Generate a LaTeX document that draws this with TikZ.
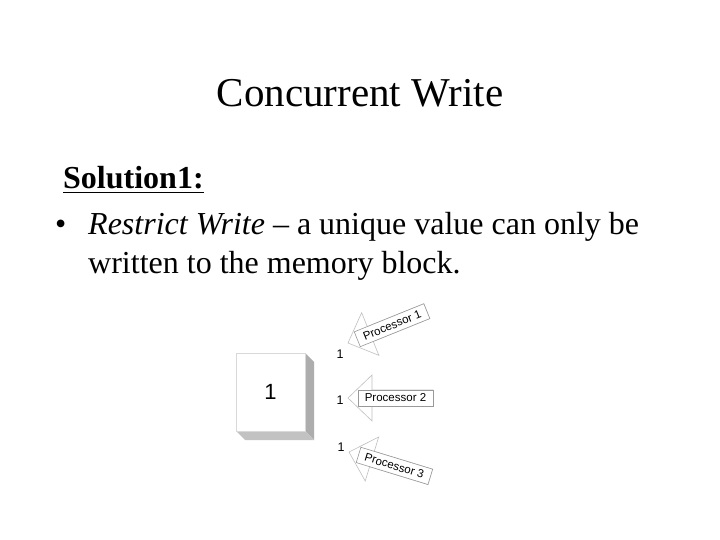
\documentclass[tikz,border=0pt]{standalone}
\usepackage{fontspec}
\setmainfont{Liberation Serif}
\newfontfamily\arialf{Liberation Sans}
\newcommand\procarrowdraw[5]{% tip x, tip y, angle, text, name
  \begin{scope}[shift={(#1,#2)}, rotate=#3]
    \draw[arrowline] (0,0) -- (24,-23) -- (24,-8) -- (85,-8) -- (85,8) -- (24,8) -- (24,23) -- cycle;
    \draw[procbox] (10,-8) rectangle (85,8);
    \node[proclabel, rotate=#3] (#5) at (47.5,0) {#4};
  \end{scope}}
\begin{document}
\begin{tikzpicture}[x=1pt,y=-1pt,
  arrowline/.style={draw=black!25, line width=0.6pt},
  procbox/.style={draw=black!40, fill=white, line width=0.6pt},
  proclabel/.style={font=\arialf\fontsize{11.5}{13}\selectfont, inner sep=0pt},
  digit/.style={font=\arialf\fontsize{12.5}{14}\selectfont, inner sep=0pt},
  bodytext/.style={font=\fontsize{32}{38}\selectfont, anchor=base west, inner sep=0pt},
]
\useasboundingbox[fill=white] (0,0) rectangle (720,540);
% title and text
\node[font=\fontsize{41}{49}\selectfont, anchor=base, inner sep=0pt] (title) at (360,107) {Concurrent Write};
\node[bodytext, font=\bfseries\fontsize{32}{38}\selectfont] (sol) at (63,189) {Solution1:};
\draw[line width=1.5pt] ([yshift=-3.5pt]sol.base west) -- ([yshift=-3.5pt]sol.base east);
\node[bodytext] (bullet) at (55,235) {•};
\node[bodytext] (line1) at (88,235) {\textit{Restrict Write} – a unique value can only be};
\node[bodytext] (line2) at (88,273) {written to the memory block.};
% memory block
\fill[black!32] (305,353) -- (314,362) -- (314,440) -- (305,431) -- cycle;
\fill[black!24] (236,431) -- (305,431) -- (314,440) -- (245,440) -- cycle;
\draw[draw=black!15, fill=white, line width=0.6pt] (236,353) rectangle (305,431);
\node[font=\arialf\fontsize{22}{26}\selectfont, inner sep=0pt] (blockval) at (270.5,392) {1};
% processors
\procarrowdraw{348}{343}{22}{Processor 1}{p1}
\procarrowdraw{348}{398}{0}{Processor 2}{p2}
\procarrowdraw{349}{452}{-17}{Processor 3}{p3}
\node[digit] (d1) at (340,354) {1};
\node[digit] (d2) at (340,400) {1};
\node[digit] (d3) at (341,447) {1};
\end{tikzpicture}
\end{document}
